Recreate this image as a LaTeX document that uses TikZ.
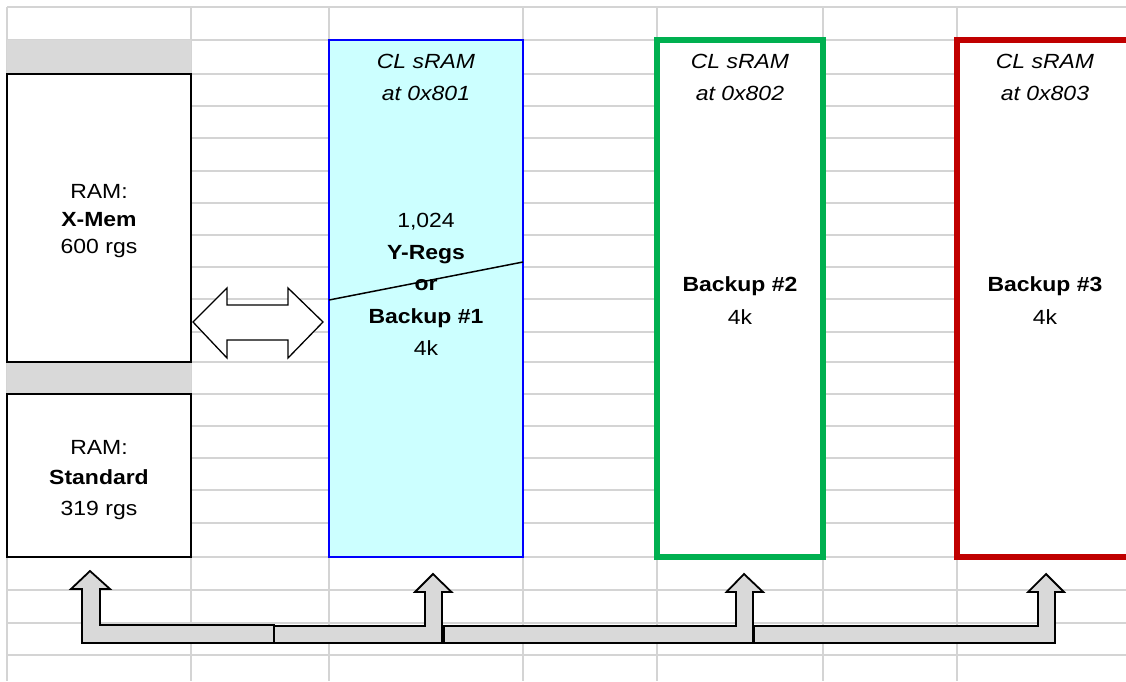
\documentclass[tikz,border=0pt]{standalone}
\usepackage{fontspec}
\setmainfont{Liberation Sans}[FakeStretch=1.12]
\definecolor{gridc}{RGB}{212,212,212}
\definecolor{cellg}{RGB}{217,217,217}
\definecolor{cyanf}{RGB}{204,255,255}
\definecolor{blueb}{RGB}{0,0,255}
\definecolor{greenb}{RGB}{0,176,80}
\definecolor{redb}{RGB}{192,0,0}
\begin{document}
\begin{tikzpicture}[x=1pt,y=-1pt,
  gridline/.style={draw=gridc, line width=1.6pt},
  txt/.style={anchor=base, inner sep=0pt, font=\fontsize{20.5}{24}\selectfont},
  btxt/.style={txt, font=\fontsize{20.5}{24}\selectfont\bfseries},
  itxt/.style={txt, font=\fontsize{20.5}{24}\selectfont\itshape},
  membox/.style={draw=black, line width=2pt, fill=white, inner sep=0pt},
  bkbox/.style={line width=6pt, fill=white, inner sep=0pt},
  blockarrow/.style={draw=black, line width=1.8pt, fill=cellg, line join=miter},
  dblarrow/.style={draw=black, line width=1.3pt, fill=white, line join=miter}]
\useasboundingbox (0,0) rectangle (1126,681);
\clip (0,0) rectangle (1126,681);
% spreadsheet grid
\foreach \gx in {7,191,329,523,657,823,957}
  \draw[gridline] (\gx,7) -- (\gx,681);
\foreach \gy in {7,40,74,106,138,171,203,235,267,299,332,362,394,426,458,490,523,557,590,623,655}
  \draw[gridline] (7,\gy) -- (1126,\gy);
% grey cells
\fill[cellg] (7,40) rectangle (191,74);
\fill[cellg] (7,362) rectangle (191,394);
% memory boxes
\node[membox, minimum width=184pt, minimum height=288pt] (xmem) at (99,218) {};
\node[membox, minimum width=184pt, minimum height=163pt] (std) at (99,475.5) {};
\node[draw=blueb, fill=cyanf, line width=2pt, inner sep=0pt, minimum width=194pt, minimum height=517pt] (cl1) at (426,298.5) {};
\node[bkbox, draw=greenb, minimum width=166pt, minimum height=517pt] (cl2) at (740,298.5) {};
\node[bkbox, draw=redb, minimum width=176pt, minimum height=517pt] (cl3) at (1045,298.5) {};
% texts X-Mem
\node[txt]  (t1) at (99,198.3) {RAM:};
\node[btxt] (t2) at (99,226.7) {X-Mem};
\node[txt]  (t3) at (99,253) {600 rgs};
% texts Standard
\node[txt]  (t4) at (99,454) {RAM:};
\node[btxt] (t5) at (99,484) {Standard};
\node[txt]  (t6) at (99,515) {319 rgs};
% texts CL 0x801
\node[itxt] (a1) at (426,68.3) {CL sRAM};
\node[itxt] (a2) at (426,100) {at 0x801};
\node[txt]  (a3) at (426,227) {1,024};
\node[btxt] (a4) at (426,259.3) {Y-Regs};
\node[btxt] (a5) at (426,290.7) {or};
\node[btxt] (a6) at (426,323) {Backup \#1};
\node[txt]  (a7) at (426,355) {4k};
\coordinate (d1) at (329,300);
\coordinate (d2) at (523,262);
\draw[line width=1.5pt] (d1) -- (d2);
% texts CL 0x802
\node[itxt] (b1) at (740,68.3) {CL sRAM};
\node[itxt] (b2) at (740,100) {at 0x802};
\node[btxt] (b3) at (740,291.7) {Backup \#2};
\node[txt]  (b4) at (740,324) {4k};
% texts CL 0x803
\node[itxt] (c1) at (1045,68.3) {CL sRAM};
\node[itxt] (c2) at (1045,100) {at 0x803};
\node[btxt] (c3) at (1045,291.7) {Backup \#3};
\node[txt]  (c4) at (1045,324) {4k};
% double arrow between X-Mem and CL sRAM
\draw[dblarrow] (193,322) -- (227,288) -- (227,305) -- (288,305) -- (288,288)
  -- (323,322) -- (288,358) -- (288,340) -- (227,340) -- (227,358) -- cycle;
% bottom bent-up arrows
\draw[blockarrow] (274,625) -- (100,625) -- (100,589) -- (110,589) -- (90,571)
  -- (71,589) -- (82,589) -- (82,643) -- (274,643) -- cycle;
\draw[blockarrow] (274,626) -- (425,626) -- (425,592) -- (415,592) -- (433,574)
  -- (451.5,592) -- (442,592) -- (442,643) -- (274,643) -- cycle;
\draw[blockarrow] (444,626) -- (736,626) -- (736,592) -- (726.5,592) -- (744,574)
  -- (763,592) -- (753,592) -- (753,643) -- (444,643) -- cycle;
\draw[blockarrow] (754,626) -- (1038,626) -- (1038,592) -- (1028,592) -- (1046,574)
  -- (1064,592) -- (1055,592) -- (1055,643) -- (754,643) -- cycle;
\end{tikzpicture}
\end{document}
